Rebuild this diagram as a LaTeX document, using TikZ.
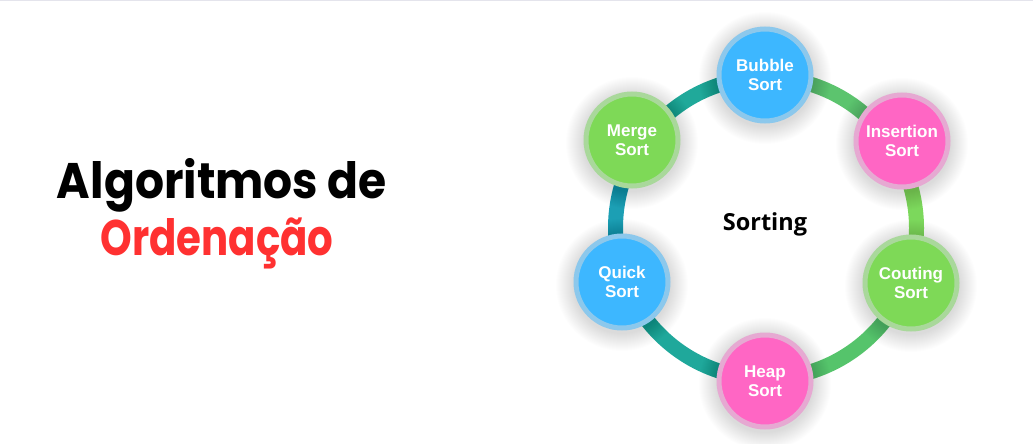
\documentclass[tikz,border=0pt]{standalone}
\usepackage{fontspec}
\usepackage{graphicx}
\usetikzlibrary{calc}
\setmainfont{Liberation Sans}
\newfontfamily\titlefont{Poppins}
\newfontfamily\opensans{Open Sans}
\definecolor{nblue}{HTML}{3DB7FF}
\definecolor{nblueb}{HTML}{8CC8EC}
\definecolor{npink}{HTML}{FF66C4}
\definecolor{npinkb}{HTML}{E6A9D2}
\definecolor{ngreen}{HTML}{7ED957}
\definecolor{ngreenb}{HTML}{A9D89B}
\definecolor{segMB}{HTML}{20A99A}
\definecolor{segBI}{HTML}{5CC46E}
\definecolor{segIC}{HTML}{7CD85C}
\definecolor{segCH}{HTML}{55C46B}
\definecolor{segHQ}{HTML}{1FA89B}
\definecolor{segQM}{HTML}{1C9FB4}
\definecolor{titlered}{HTML}{FF3131}
\definecolor{topline}{HTML}{E4E4EC}
\tikzset{
  sortnode/.style={circle, minimum size=92pt, inner sep=0pt, line width=5pt,
    text=white, align=center, font=\bfseries\fontsize{17}{18.5}\selectfont},
  bluenode/.style={sortnode, fill=nblue, draw=nblueb},
  pinknode/.style={sortnode, fill=npink, draw=npinkb},
  greennode/.style={sortnode, fill=ngreen, draw=ngreenb},
  titletext/.style={anchor=base, font=\titlefont\bfseries\fontsize{50}{60}\selectfont},
}
\newcommand{\ringseg}[3]{%
  \fill[#3] (ctr) -- ($(ctr)!1.7!(#1)$) -- ($(ctr)!1.7!(#2)$) -- cycle;}
\begin{document}
\begin{tikzpicture}[x=1pt,y=-1pt]
\useasboundingbox (0,0) rectangle (1033,444);
\fill[white] (0,0) rectangle (1033,444);
\draw[topline, line width=1.5pt] (0,0.75) -- (1033,0.75);

% positions
\coordinate (ctr) at (766,228);
\coordinate (pb) at (765,75);
\coordinate (pi) at (902,141);
\coordinate (pc) at (911,283);
\coordinate (ph) at (765,381);
\coordinate (pq) at (622,282);
\coordinate (pm) at (632,140);

% ring
\begin{scope}[even odd rule]
  \clip (ctr) circle (158pt) (ctr) circle (143pt);
  \ringseg{pm}{pb}{segMB}
  \ringseg{pb}{pi}{segBI}
  \ringseg{pi}{pc}{segIC}
  \ringseg{pc}{ph}{segCH}
  \ringseg{ph}{pq}{segHQ}
  \ringseg{pq}{pm}{segQM}
\end{scope}

% shadows
\foreach \p in {pb,pi,pc,ph,pq,pm}{
  \foreach \r in {49,50,...,66}{
    \fill[black, opacity=0.0065] ([yshift=-3pt]\p) circle (\r pt);
  }
}

\node[bluenode]  (bubble)    at (pb) {Bubble\\Sort};
\node[pinknode]  (insertion) at (pi) {Insertion\\Sort};
\node[greennode] (couting)   at (pc) {Couting\\Sort};
\node[pinknode]  (heap)      at (ph) {Heap\\Sort};
\node[bluenode]  (quick)     at (pq) {Quick\\Sort};
\node[greennode] (merge)     at (pm) {Merge\\Sort};

\node[anchor=base, font=\opensans\bfseries\fontsize{23.5}{27}\selectfont] (sorting) at (765,230) {Sorting};

\node[titletext] (t1) at (222,198) {\resizebox{330pt}{\height}{Algoritmos de}};
\node[titletext, text=titlered] (t2) at (217,255) {\resizebox{233pt}{\height}{Ordenação}};
\end{tikzpicture}
\end{document}
